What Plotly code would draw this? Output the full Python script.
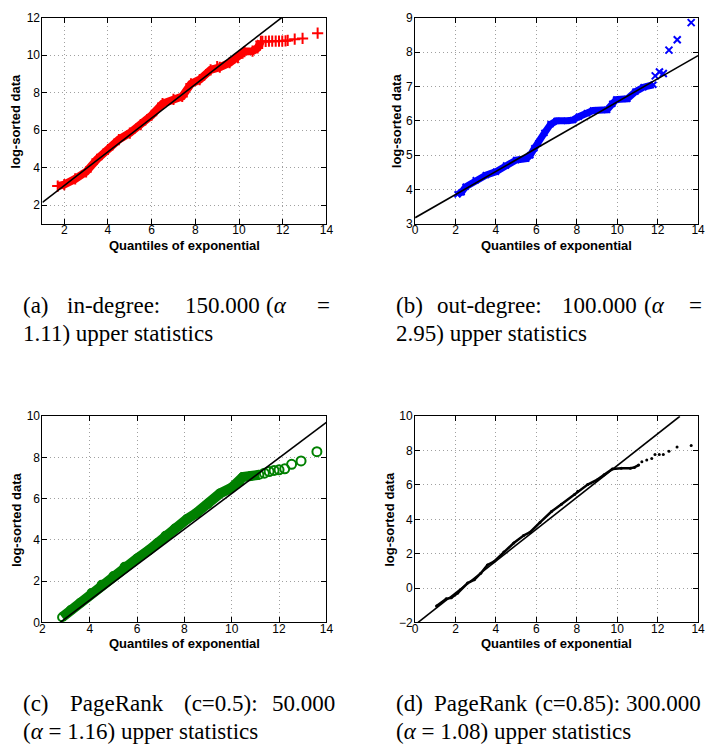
import plotly.graph_objects as go

# ---------------- data ----------------
# (a) in-degree
a_dense_x = [1.70, 2.0, 2.5, 3.0, 3.5, 4.0, 4.5, 5.0, 5.5, 6.0, 6.5, 7.0, 7.4, 7.8, 8.2, 8.7, 9.0, 9.12, 9.57, 9.95, 10.25, 10.62, 10.85, 11.0]
a_dense_y = [3.02, 3.1, 3.4, 3.78, 4.45, 4.97, 5.5, 5.85, 6.3, 6.8, 7.42, 7.65, 7.8, 8.47, 8.7, 9.22, 9.4, 9.36, 9.6, 9.87, 10.2, 10.22, 10.39, 10.74]
a_tail_x = [11.07, 11.22, 11.37, 11.52, 11.68, 11.83, 11.98, 12.13, 12.23, 12.55, 12.91, 13.6]
a_tail_y = [10.74, 10.74, 10.75, 10.75, 10.75, 10.76, 10.76, 10.77, 10.79, 10.86, 10.9, 11.18]
a_fit_x = [1.0, 12.2]
a_fit_y = [2.15, 12.23]

# (b) out-degree
b_dense_x = [2.1, 2.3, 2.5, 3.0, 3.5, 4.0, 4.5, 5.0, 5.5, 5.7, 5.9, 6.1, 6.4, 6.7, 7.0, 7.5, 7.8, 8.1, 8.5, 8.8, 9.5, 9.76, 9.95, 10.5, 10.9, 11.3, 11.79]
b_dense_y = [3.86, 3.92, 4.08, 4.27, 4.42, 4.52, 4.7, 4.86, 4.9, 5.0, 5.2, 5.35, 5.65, 5.9, 6.0, 6.0, 6.02, 6.12, 6.22, 6.3, 6.32, 6.5, 6.62, 6.64, 6.85, 6.98, 7.05]
b_tail_x = [11.88, 12.09, 12.28, 12.56, 12.97, 13.66]
b_tail_y = [7.31, 7.42, 7.38, 8.06, 8.36, 8.86]
b_fit_x = [0.0, 14.0]
b_fit_y = [3.18, 7.9]

# (c) PageRank c=0.5
c_dense_x = [2.83, 3.2, 3.6, 4.08, 4.5, 5.0, 5.47, 6.0, 6.5, 6.86, 7.2, 7.6, 8.11, 8.5, 9.0, 9.5, 9.99, 10.33, 10.47, 10.8, 11.17]
c_dense_y = [0.25, 0.6, 0.95, 1.43, 1.82, 2.25, 2.7, 3.1, 3.5, 3.85, 4.2, 4.55, 5.01, 5.3, 5.75, 6.25, 6.53, 6.85, 7.05, 7.1, 7.16]
c_tail_x = [11.38, 11.58, 11.79, 12.0, 12.24, 12.53, 12.93, 13.6]
c_tail_y = [7.24, 7.32, 7.37, 7.4, 7.45, 7.67, 7.83, 8.28]
c_fit_x = [2.75, 14.0]
c_fit_y = [0.0, 9.7]

# (d) PageRank c=0.85
d_dense_x = [1.06, 1.54, 1.79, 2.11, 2.6, 2.93, 3.25, 3.58, 3.9, 4.39, 4.88, 5.37, 5.69, 6.18, 6.75, 7.24, 7.89, 8.05, 8.54, 9.02, 9.35, 9.76, 10.2, 10.65, 10.85, 11.06]
d_dense_y = [-1.05, -0.63, -0.57, -0.29, 0.29, 0.48, 0.86, 1.34, 1.53, 2.1, 2.62, 3.06, 3.25, 3.82, 4.45, 4.88, 5.45, 5.64, 6.02, 6.31, 6.6, 6.93, 6.97, 6.97, 7.02, 7.16]
d_tail_x = [11.22, 11.46, 11.71, 11.87, 12.08, 12.28, 12.56, 12.96, 13.66]
d_tail_y = [7.35, 7.45, 7.54, 7.77, 7.77, 7.77, 7.96, 8.21, 8.3]
d_fit_x = [0.15, 13.1]
d_fit_y = [-2.0, 10.0]

x_ranges = [[1, 14], [0, 14], [2, 14], [0, 14]]
y_ranges = [[1, 12], [3, 9], [0, 10], [-2, 10]]
y_dticks = [2, 1, 2, 2]

x_title = "Quantiles of exponential"
y_title = "log-sorted data"

# ---------------- layout geometry (pixels) ----------------
W, H = 709, 754
# (left, right, top, bottom) of each plot box in pixels
boxes = [(40, 328, 11, 221), (418, 705, 11, 221), (40, 328, 417, 627), (418, 705, 417, 627)]
ytitle_x = [13, 399, 13, 392]

fig = go.Figure()

panels = [
    # dense x/y, tail x/y, fit x/y, colour, symbol, dense marker size, tail marker size, band width
    (a_dense_x, a_dense_y, a_tail_x, a_tail_y, a_fit_x, a_fit_y, "#ff0000", "cross-thin", 8, 8, 8),
    (b_dense_x, b_dense_y, b_tail_x, b_tail_y, b_fit_x, b_fit_y, "#0000ff", "x-thin", 6, 7, 7),
    (c_dense_x, c_dense_y, c_tail_x, c_tail_y, c_fit_x, c_fit_y, "#008000", "circle-open", 8, 9, 10),
    (d_dense_x, d_dense_y, d_tail_x, d_tail_y, d_fit_x, d_fit_y, "#000000", "circle", 3, 3, 2.5),
]

for i, (dx, dy, tx, ty, fx, fy, col, sym, dsize, tsize, lw) in enumerate(panels):
    xa = "x" if i == 0 else f"x{i+1}"
    ya = "y" if i == 0 else f"y{i+1}"
    mlw = 0 if sym == "circle" else 2
    fig.add_trace(go.Scatter(x=dx, y=dy, mode="lines+markers", xaxis=xa, yaxis=ya,
                             line=dict(color=col, width=lw),
                             marker=dict(symbol=sym, size=dsize, color=col, line=dict(color=col, width=mlw)),
                             showlegend=False, hoverinfo="skip"))
    fig.add_trace(go.Scatter(x=tx, y=ty, mode="markers", xaxis=xa, yaxis=ya,
                             marker=dict(symbol=sym, size=tsize, color=col, line=dict(color=col, width=mlw)),
                             showlegend=False, hoverinfo="skip"))
    fig.add_trace(go.Scatter(x=fx, y=fy, mode="lines", xaxis=xa, yaxis=ya,
                             line=dict(color="black", width=1.6),
                             showlegend=False, hoverinfo="skip"))

axis_common = dict(showline=True, linecolor="black", linewidth=1, mirror="allticks",
                   ticks="inside", ticklen=5, tickcolor="black", tickwidth=1,
                   showgrid=True, gridcolor="#a0a0a0", griddash="1px,3px", gridwidth=1,
                   zeroline=False, tickfont=dict(family="Liberation Sans", size=12, color="black"))

annotations = []
for i, (l, r, t, b) in enumerate(boxes):
    xk = "xaxis" if i == 0 else f"xaxis{i+1}"
    yk = "yaxis" if i == 0 else f"yaxis{i+1}"
    ya = "y" if i == 0 else f"y{i+1}"
    xa = "x" if i == 0 else f"x{i+1}"
    fig.layout[xk] = dict(axis_common, domain=[l / W, r / W], range=x_ranges[i],
                          tick0=0, dtick=2, anchor=ya, ticklabelstandoff=-5)
    fig.layout[yk] = dict(axis_common, domain=[1 - b / H, 1 - t / H], range=y_ranges[i],
                          tick0=0, dtick=y_dticks[i], anchor=xa, ticklabelstandoff=-1)
    annotations.append(dict(text=f"<b>{x_title}</b>", xref="paper", yref="paper",
                            x=(l + r) / 2 / W, y=1 - (b + 22) / H, showarrow=False,
                            xanchor="center", yanchor="middle",
                            font=dict(family="Liberation Sans", size=13, color="black")))
    annotations.append(dict(text=f"<b>{y_title}</b>", xref="paper", yref="paper",
                            x=ytitle_x[i] / W, y=1 - (t + b) / 2 / H, showarrow=False, textangle=-90,
                            xanchor="center", yanchor="middle",
                            font=dict(family="Liberation Sans", size=13, color="black")))

# ---------------- captions ----------------
cap_font = dict(family="Liberation Serif", size=23, color="black")
NB = "\u00a0"
captions = [
    # (x px, y px, text)
    (18, 304, "(a)"), (63, 304, "in-degree:"), (183, 304, "150.000"), (265, 304, "(<i>α</i>"), (316, 304, "="),
    (18, 333, "1.11) upper statistics"),
    (397, 304, "(b)"), (438, 304, "out-degree:"), (565, 304, "100.000"), (648, 304, "(<i>α</i>"), (694, 304, "="),
    (397, 333, "2.95) upper statistics"),
    (18, 710, "(c)"), (66, 710, "PageRank"), (182, 710, "(c=0.5):"), (271, 710, "50.000"),
    (18, 738, f"(<i>α</i>{NB}={NB}1.16) upper statistics"),
    (397, 710, "(d)"), (435, 710, "PageRank"), (538, 710, "(c=0.85):"), (630, 710, "300.000"),
    (397, 738, f"(<i>α</i>{NB}={NB}1.08) upper statistics"),
]
for (cx, cy, txt) in captions:
    annotations.append(dict(text=txt, xref="paper", yref="paper", x=cx / W, y=1 - cy / H,
                            showarrow=False, xanchor="left", yanchor="middle", font=cap_font))

fig.update_layout(width=W, height=H, margin=dict(l=0, r=0, t=0, b=0),
                  paper_bgcolor="white", plot_bgcolor="white",
                  annotations=annotations, showlegend=False)

fig.write_html("out.html")
